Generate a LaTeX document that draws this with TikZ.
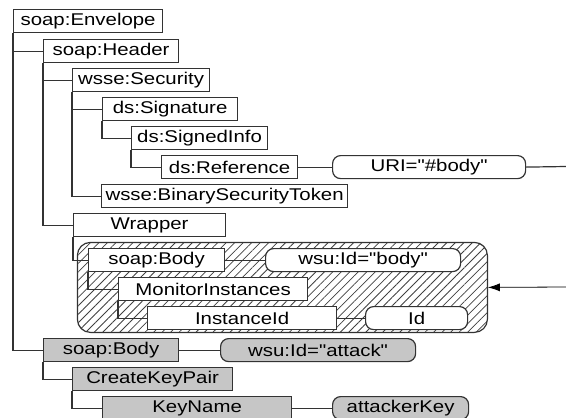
\documentclass[tikz,border=0pt]{standalone}
\usepackage{fontspec}
\newfontfamily\diagfont[FakeStretch=1.2]{Liberation Sans}
\usetikzlibrary{arrows.meta,patterns.meta}

\begin{document}
\begin{tikzpicture}[
				x=1pt, y=-1pt,
				line width=1.2pt,
				el/.style = {draw=black!80, fill=white, rectangle, anchor=north west,
						minimum height=23pt, inner sep=1pt,
						font=\diagfont\fontsize{17}{20}\selectfont},
				attr/.style = {el, rounded corners=8pt},
				evil/.style = {fill=gray!45},
				tree/.style = {draw=black!80},
			]
			\useasboundingbox (0,0) rectangle (566,418);
			% signed part (hatched)
			\node[draw=black!80, rounded corners=13pt, anchor=north west, minimum width=410pt, minimum height=90pt,
				pattern={Lines[angle=45, distance=6pt, line width=0.8pt]}, pattern color=black!75] (signed) at (77,242) {};
			% header
			\node[el, minimum width=149pt] (env) at (13,9) {soap:Envelope};
			\node[el, minimum width=135pt] (hdr) at (43,39) {soap:Header};
			\node[el, minimum width=137pt] (sec) at (72,68) {wsse:Security};
			\node[el, minimum width=135pt] (sig) at (102,97) {ds:Signature};
			\node[el, minimum width=136pt] (sinfo) at (131,126) {ds:SignedInfo};
			\node[el, minimum width=136pt] (ref) at (161,155) {ds:Reference};
			\node[attr, minimum width=193pt] (uri) at (332,155) {URI="\#body"};
			\node[el, minimum width=246pt] (bst) at (101,184) {wsse:BinarySecurityToken};
			\node[el, minimum width=152pt] (wrap) at (73,213) {Wrapper};
			% original body
			\node[el, minimum width=136pt] (body) at (88,248) {soap:Body};
			\node[attr, minimum width=195pt] (bodyid) at (265,248) {wsu:Id="body"};
			\node[el, minimum width=189pt] (mon) at (118,277) {MonitorInstances};
			\node[el, minimum width=189pt] (inst) at (147,306) {InstanceId};
			\node[attr, minimum width=102pt] (instid) at (365,306) {Id};
			% injected body
			\node[el, evil, minimum width=135pt] (body2) at (43,338) {soap:Body};
			\node[attr, evil, minimum width=195pt] (attackid) at (220,338) {wsu:Id="attack"};
			\node[el, evil, minimum width=160pt] (ckp) at (72,367) {CreateKeyPair};
			\node[el, evil, minimum width=189pt] (kname) at (102,396) {KeyName};
			\node[attr, evil, minimum width=136pt] (akey) at (332,396) {attackerKey};

			\coordinate (uriout) at (566,166.5);
			\coordinate (refin) at (566,287);

			\draw[tree] (env.south west) |- (hdr.west);
			\draw[tree] (env.south west) |- (body2.west);
			\draw[tree] (hdr.south west) |- (sec.west);
			\draw[tree] (hdr.south west) |- (wrap.west);
			\draw[tree] (sec.south west) |- (sig.west);
			\draw[tree] (sec.south west) |- (bst.west);
			\draw[tree] (sig.south west) |- (sinfo.west);
			\draw[tree] (sinfo.south west) |- (ref.west);
			\draw[tree] (ref) -- (uri);
			\draw[tree] (uri.east) -- (uriout);
			\draw[tree] (wrap.south west) |- (body.west);
			\draw[tree] (body) -- (bodyid);
			\draw[tree] (body.south west) |- (mon.west);
			\draw[tree] (mon.south west) |- (inst.west);
			\draw[tree] (inst) -- (instid);
			\draw[tree] (body2) -- (attackid);
			\draw[tree] (body2.south west) |- (ckp.west);
			\draw[tree] (ckp.south west) |- (kname.west);
			\draw[tree] (kname) -- (akey);
			\draw[-{Latex[length=12pt,width=8pt]}, line width=0.8pt] (refin) -- (signed.east);
		\end{tikzpicture}
\end{document}
